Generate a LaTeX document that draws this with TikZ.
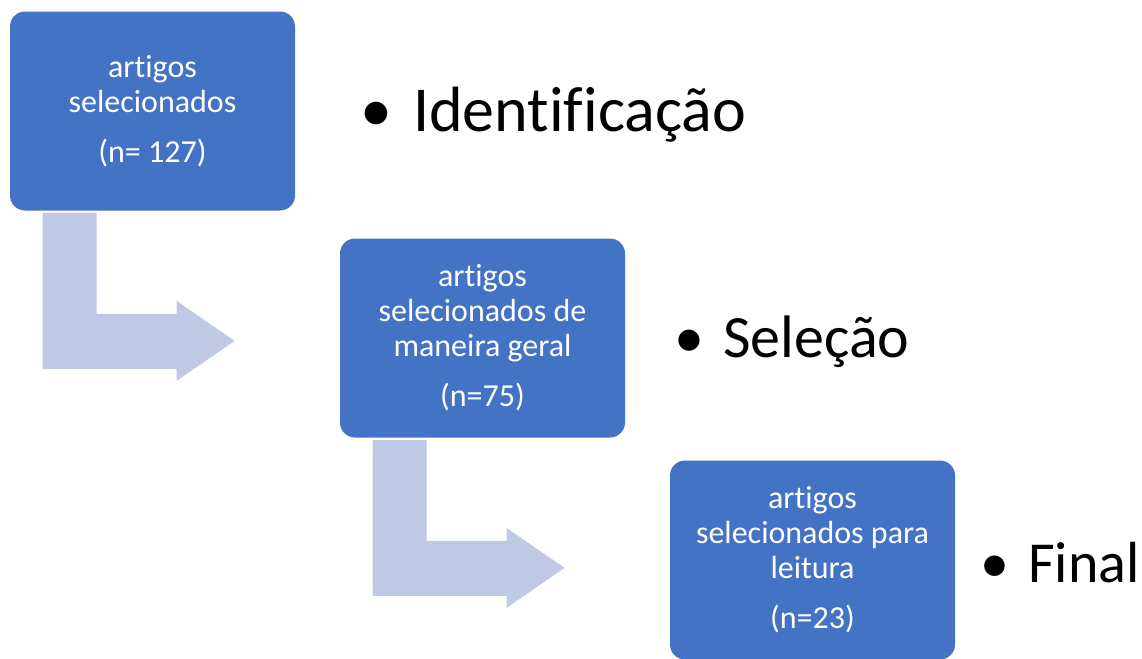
\documentclass[tikz,border=0pt]{standalone}
\usepackage{fontspec}
\setmainfont{Carlito}[Ligatures={NoCommon,NoRare}]
\usetikzlibrary{positioning,calc}
\definecolor{boxblue}{RGB}{68,114,196}
\definecolor{arrowblue}{RGB}{191,201,228}

\begin{document}
\begin{tikzpicture}[
    x=0.5pt,y=-0.5pt,
    box/.style={rectangle,rounded corners=7.5pt,fill=boxblue,text=white,minimum width=142.5pt,minimum height=99.5pt,inner sep=0pt,align=center,font=\fontsize{16}{17.5}\selectfont},
    stage/.style={inner sep=0pt,anchor=base west,font=\fontsize{#1}{36}\selectfont},
    bent/.style={fill=arrowblue}
]

\useasboundingbox (0,0) rectangle (1142,659);

% Boxes
\node[box] (idbox) at (152.5,111) {artigos\\selecionados\\[7.5pt](n= 127)};
\node[box] (selbox) at (482.5,338) {artigos\\selecionados de\\maneira geral\\[7.5pt](n=75)};
\node[box] (finbox) at (812.5,560) {artigos\\selecionados para\\leitura\\[7.5pt](n=23)};

% Bent arrows below the first two boxes
\foreach \b in {idbox,selbox} {
    \fill[bent] ($(\b.south west)+(33,2)$) -- ++(54,0) -- ++(0,101) -- ++(80,0) -- ++(0,-13)
        -- ++(58,40) -- ++(-58,40) -- ++(0,-12) -- ++(-134,0) -- cycle;
}

% Stage labels (each one autofitted to its own size)
\node[stage=32] (ident) at (360,131) {\textbullet\hspace{10.5pt}Identificação};
\node[stage=30] (selec) at (674,357) {\textbullet\hspace{9.5pt}Seleção};
\node[stage=29] (final) at (980,582) {\textbullet\hspace{9.5pt}Final};

\end{tikzpicture}
\end{document}
